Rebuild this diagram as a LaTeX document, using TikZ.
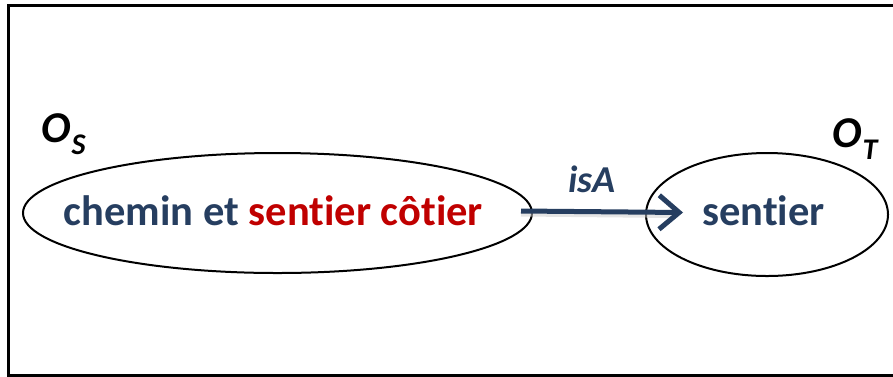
\documentclass[tikz,border=0pt]{standalone}
\usepackage{fontspec}
\setmainfont[Ligatures={NoCommon}]{Carlito}
\usetikzlibrary{arrows.meta,shapes.geometric}
\definecolor{navy}{RGB}{38,62,96}
\definecolor{redtxt}{RGB}{192,0,0}
\tikzset{
  onto/.style={draw=black, line width=2pt, shape=ellipse, inner sep=0pt},
  lbl/.style={font=\fontsize{42.5}{42.5}\selectfont\bfseries, text=navy, inner sep=0pt, anchor=base},
  ontname/.style={font=\fontsize{44}{44}\selectfont\bfseries\itshape, text=black, inner sep=0pt},
  rel/.style={draw=navy, line width=5pt, -{Straight Barb[length=20pt,width=34pt,line width=5pt]}},
}
\newcommand{\ontsub}[1]{\kern1pt\raisebox{-12pt}{\fontsize{30}{30}\selectfont #1}}
\begin{document}
\begin{tikzpicture}[x=1pt,y=-1pt]
\useasboundingbox (0,0) rectangle (893,376);
\begin{scope}
\clip (0,0) rectangle (893,376);
\draw[line width=3pt] (8,5) rectangle (900,375);
\end{scope}
\node[onto, minimum width=509pt, minimum height=120pt] (srcE) at (277.5,213) {};
\node[onto, minimum width=242pt, minimum height=123pt] (tgtE) at (767,214.5) {};
\node[lbl] (src) at (273.5,225) {chemin et \textcolor{redtxt}{sentier côtier}};
\node[lbl] (tgt) at (763.5,225) {sentier};
\coordinate (a0) at ([xshift=-12pt,yshift=2pt]srcE.east);
\coordinate (a1) at ([xshift=38pt,yshift=2pt]tgtE.west);
\draw[draw=black!20, line width=5pt, opacity=0.5] ([yshift=-3pt]a0) -- ([yshift=-3pt,xshift=-8pt]a1);
\draw[rel] (a0) -- (a1);
\node[lbl, font=\fontsize{38}{38}\selectfont\bfseries\itshape] (isa) at (592,192) {isA};
\node[ontname, anchor=base west] (os) at (41,142) {O\ontsub{S}};
\node[ontname, anchor=base west] (ot) at (832,147) {O\ontsub{T}};
\end{tikzpicture}
\end{document}
